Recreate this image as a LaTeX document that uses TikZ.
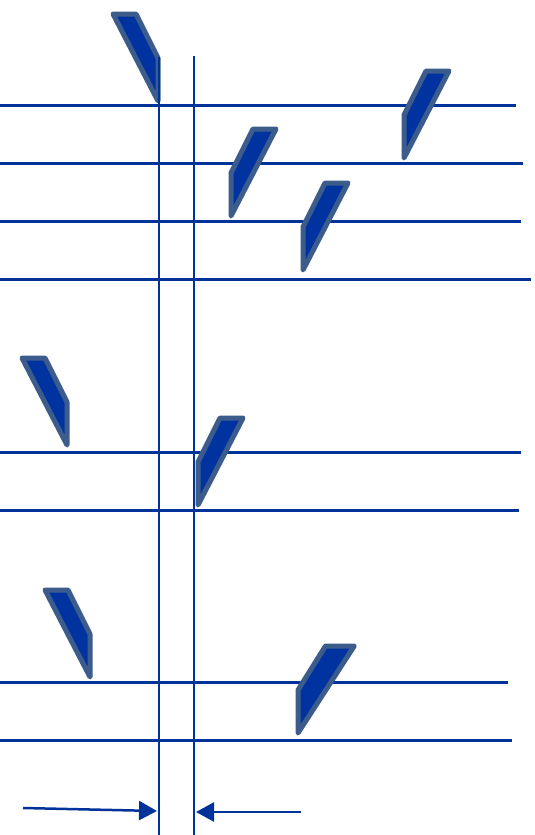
\documentclass[tikz,border=0pt]{standalone}
\usetikzlibrary{arrows.meta}
\definecolor{azul}{RGB}{0,51,153}
\definecolor{relleno}{RGB}{0,51,160}
\definecolor{borde}{RGB}{60,92,140}
\tikzset{
    pauta/.style={
        line width=3pt, draw=azul
    },
    guia/.style={
        line width=1.4pt, draw=azul
    },
    bandera/.style={
        line width=5pt, draw=borde, fill=relleno, line join=round
    },
    flecha/.style={
        line width=2.5pt, draw=azul, -{Triangle[length=18pt, width=19pt]}
    },
    plica/.pic={
        \draw[bandera] (0,-2) -- (0,-45) -- (22,-89) -- (45,-89) -- cycle;
    }
}

\begin{document}
\begin{tikzpicture}[x=1pt, y=-1pt]
    \useasboundingbox[fill=white] (0,0) rectangle (535,835);

    % Pautas horizontales
    \foreach \y/\fin in {105/516, 163/523, 221/521, 279/531, 452/521, 510/519, 682/508, 740/512}
        \draw[pauta] (0,\y) -- (\fin,\y);

    % Banderas hacia la izquierda
    \pic[xscale=-1] (banderaA) at (158,103) {plica};
    \pic[xscale=-1] (banderaE) at (67,447) {plica};
    \pic[xscale=-1] (banderaG) at (90,679) {plica};

    % Banderas hacia la derecha
    \pic (banderaB) at (231,218) {plica};
    \pic (banderaC) at (303,272) {plica};
    \pic (banderaD) at (404,160) {plica};
    \pic (banderaF) at (198,507) {plica};
    \pic[xscale=1.25] (banderaH) at (298,735) {plica};

    % Guias verticales
    \coordinate (ejeA) at (159,57);
    \coordinate (ejeA2) at (159,835);
    \coordinate (ejeB) at (194,56);
    \coordinate (ejeB2) at (194,835);
    \draw[guia] (ejeA) -- (ejeA2);
    \draw[guia] (ejeB) -- (ejeB2);

    % Flechas de cota
    \coordinate (inicioA) at (23,808);
    \coordinate (finA) at (157,811);
    \coordinate (inicioB) at (301,812);
    \coordinate (finB) at (196,812);
    \draw[flecha] (inicioA) -- (finA);
    \draw[flecha] (inicioB) -- (finB);
\end{tikzpicture}
\end{document}
